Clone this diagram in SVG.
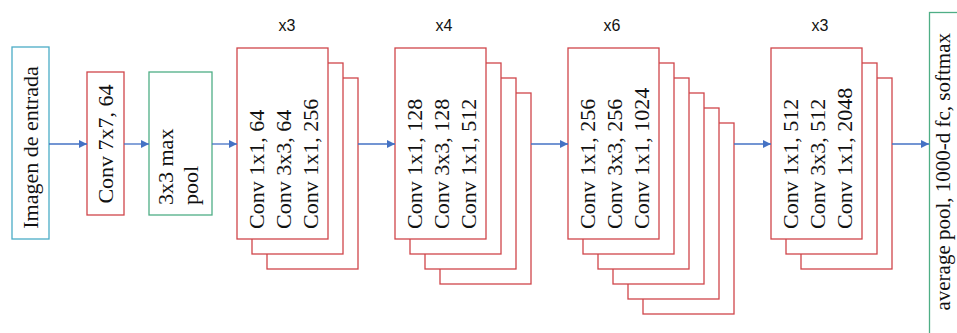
<svg xmlns="http://www.w3.org/2000/svg" width="957" height="333" viewBox="0 0 957 333">
<style>
.bg{fill:#ffffff}
.red{fill:#ffffff;stroke:#d0454a;stroke-width:1.3}
.cyan{fill:#ffffff;stroke:#4bacc6;stroke-width:1.3}
.green{fill:#ffffff;stroke:#4fae86;stroke-width:1.3}
.t{font-family:"Liberation Serif","Times New Roman",serif;font-size:22px;fill:#111111}
.tout{font-family:"Liberation Serif","Times New Roman",serif;font-size:21px;fill:#111111}
.lbl{font-family:"Liberation Sans",Arial,sans-serif;font-size:16px;fill:#111111;text-anchor:middle}
.conn{stroke:#4472c4;stroke-width:1.3;fill:none;marker-end:url(#ah)}
</style>
<defs>
<marker id="ah" viewBox="0 0 10 10" refX="10" refY="5" markerWidth="9" markerHeight="8" markerUnits="userSpaceOnUse" orient="auto">
<path d="M0,0 L10,5 L0,10 z" fill="#4472c4"/>
</marker>
</defs>
<rect class="bg" x="0" y="0" width="957" height="333"/>

<g id="input">
<rect class="cyan" x="12" y="47" width="37" height="192"/>
<text class="t" text-anchor="middle" transform="translate(38,147.5) rotate(-90)">Imagen de entrada</text>
</g>

<g id="conv1">
<rect class="red" x="87" y="72" width="37" height="143"/>
<text class="t" text-anchor="middle" transform="translate(113,144) rotate(-90)">Conv 7x7, 64</text>
</g>

<g id="maxpool">
<rect class="green" x="149" y="72" width="63" height="143"/>
<text class="t" transform="translate(173,205) rotate(-90)">3x3 max</text>
<text class="t" transform="translate(198,205) rotate(-90)">pool</text>
</g>

<g id="block1">
<text class="lbl" x="287" y="31">x3</text>
<rect class="red" x="267" y="78" width="91" height="191"/>
<rect class="red" x="252" y="63" width="91" height="191"/>
<rect class="red" x="237" y="48" width="91" height="191"/>
<text class="t" transform="translate(264,229) rotate(-90)">Conv 1x1, 64</text>
<text class="t" transform="translate(291,229) rotate(-90)">Conv 3x3, 64</text>
<text class="t" transform="translate(318,229) rotate(-90)">Conv 1x1, 256</text>
</g>

<g id="block2">
<text class="lbl" x="444" y="31">x4</text>
<rect class="red" x="440" y="93" width="91" height="191"/>
<rect class="red" x="425" y="78" width="91" height="191"/>
<rect class="red" x="410" y="63" width="91" height="191"/>
<rect class="red" x="395" y="48" width="91" height="191"/>
<text class="t" transform="translate(422,229) rotate(-90)">Conv 1x1, 128</text>
<text class="t" transform="translate(449,229) rotate(-90)">Conv 3x3, 128</text>
<text class="t" transform="translate(476,229) rotate(-90)">Conv 1x1, 512</text>
</g>

<g id="block3">
<text class="lbl" x="612" y="31">x6</text>
<rect class="red" x="643" y="123" width="91" height="191"/>
<rect class="red" x="628" y="108" width="91" height="191"/>
<rect class="red" x="613" y="93" width="91" height="191"/>
<rect class="red" x="598" y="78" width="91" height="191"/>
<rect class="red" x="583" y="63" width="91" height="191"/>
<rect class="red" x="568" y="48" width="91" height="191"/>
<text class="t" transform="translate(595,229) rotate(-90)">Conv 1x1, 256</text>
<text class="t" transform="translate(622,229) rotate(-90)">Conv 3x3, 256</text>
<text class="t" transform="translate(649,229) rotate(-90)">Conv 1x1, 1024</text>
</g>

<g id="block4">
<text class="lbl" x="820" y="31">x3</text>
<rect class="red" x="801" y="78" width="91" height="191"/>
<rect class="red" x="786" y="63" width="91" height="191"/>
<rect class="red" x="771" y="48" width="91" height="191"/>
<text class="t" transform="translate(798,229) rotate(-90)">Conv 1x1, 512</text>
<text class="t" transform="translate(825,229) rotate(-90)">Conv 3x3, 512</text>
<text class="t" transform="translate(852,229) rotate(-90)">Conv 1x1, 2048</text>
</g>

<g id="output">
<rect class="green" x="929.5" y="12.5" width="45" height="340"/>
<text class="tout" text-anchor="end" transform="translate(950,33) rotate(-90)">average pool, 1000-d fc, softmax</text>
</g>

<g id="connectors">
<line class="conn" x1="49" y1="144" x2="87" y2="144"/>
<line class="conn" x1="124" y1="144" x2="149" y2="144"/>
<line class="conn" x1="212" y1="144" x2="237" y2="144"/>
<line class="conn" x1="358" y1="144" x2="395" y2="144"/>
<line class="conn" x1="531" y1="144" x2="568" y2="144"/>
<line class="conn" x1="734" y1="144" x2="771" y2="144"/>
<line class="conn" x1="892" y1="144" x2="929" y2="144"/>
</g>
</svg>
